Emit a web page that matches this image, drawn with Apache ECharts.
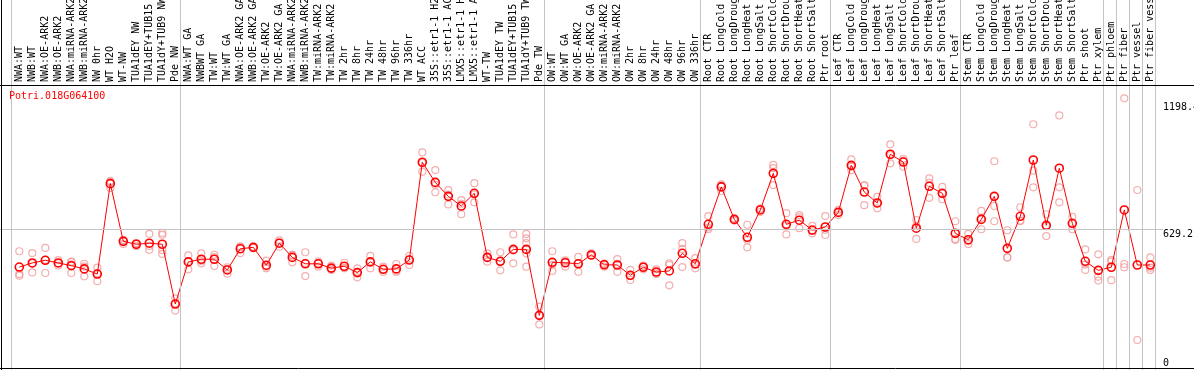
<!DOCTYPE html>
<html><head><meta charset="utf-8">
<script src="https://cdn.jsdelivr.net/npm/echarts@6/dist/echarts.min.js"></script>
<style>html,body{margin:0;padding:0;background:#fff}#c{width:1194px;height:370px}</style>
</head><body><div id="c"></div>
<script>
const geneName = 'Potri.018G064100';
const categories = [
 'NWA:WT','NWB:WT','NWA:OE-ARK2','NWB:OE-ARK2','NWA:miRNA-ARK2','NWB:miRNA-ARK2','NW 0hr','WT H2O','WT-NW','TUA1dEY NW','TUA1dEY+TUB15 NW','TUA1dY+TUB9 NW','Pde NW',
 'NWA:WT GA','NWBWT GA','TW:WT','TW:WT GA','NWA:OE-ARK2 GA','NWB:OE-ARK2 GA','TW:OE-ARK2','TW:OE-ARK2 GA','NWA:miRNA-ARK2 GA','NWB:miRNA-ARK2 GA','TW:miRNA-ARK2','TW:miRNA-ARK2 GA','TW 2hr','TW 8hr','TW 24hr','TW 48hr','TW 96hr','TW 336hr','WT ACC','35S::etr1-1 H2O','35S::etr1-1 ACC','LMX5::etr1-1 H2O','LMX5::etr1-1 ACC','WT-TW','TUA1dEY TW','TUA1dEY+TUB15 TW','TUA1dY+TUB9 TW','Pde TW',
 'OW:WT','OW:WT GA','OW:OE-ARK2','OW:OE-ARK2 GA','OW:miRNA-ARK2','OW:miRNA-ARK2 GA','OW 2hr','OW 8hr','OW 24hr','OW 48hr','OW 96hr','OW 336hr',
 'Root CTR','Root LongCold','Root LongDrought','Root LongHeat','Root LongSalt','Root ShortCold','Root ShortDrought','Root ShortHeat','Root ShortSalt','Ptr root',
 'Leaf CTR','Leaf LongCold','Leaf LongDrought','Leaf LongHeat','Leaf LongSalt','Leaf ShortCold','Leaf ShortDrought','Leaf ShortHeat','Leaf ShortSalt','Ptr leaf',
 'Stem CTR','Stem LongCold','Stem LongDrought','Stem LongHeat','Stem LongSalt','Stem ShortCold','Stem ShortDrought','Stem ShortHeat','Stem ShortSalt','Ptr shoot','Ptr xylem',
 'Ptr phloem','Ptr fiber','Ptr vessel','Ptr fiber vessel'
];
const meanValues = [
 444,464,477,464,451,435,410,850,569,555,560,555,264,
 469,482,482,430,533,540,453,560,491,460,460,439,448,417,469,433,435,478,954,856,788,741,803,491,472,530,530,209,
 467,465,460,503,455,454,404,443,420,425,511,460,
 652,834,676,589,722,900,652,672,624,639,
 710,939,809,756,993,955,633,837,803,608,
 577,676,788,535,691,965,647,925,657,472,428,
 443,722,454,454
];
const replicates = [
 [521,410,402],[512,418,462],[537,415,479],[478,451,463],[470,415,468],[460,399,446],[441,375,414],[858,829,863],[556,576,575],[546,561,558],[605,528,547],[610,601,508,527],[292,232,268],
 [501,433,473],[511,462,473],[504,449,493],[443,412,435],[543,512,544],[543,540,537],[475,438,446],[574,543,563],[503,467,503],[516,400,464],[472,446,462],[451,430,436],[465,438,441],[438,394,419],[498,438,471],[446,420,433],[459,420,426],[499,454,481],[1002,908,952],[916,808,844],[818,749,797],[770,701,752],[852,759,798],[511,470,492],[516,428,472],[603,462,525],[605,584,560,530,511,446],[251,165,211],
 [521,425,455],[477,446,472],[494,421,465],[511,500,498],[462,446,457],[483,421,458],[430,381,401],[451,433,445],[433,410,417],[462,355,454],[560,532,444],[487,438,455],
 [692,628,636],[842,814,846],[681,670,677],[650,540,577],[730,712,724],[941,843,925],[706,603,647],[697,633,686],[644,608,620],[692,600,625],
 [722,697,711],[968,916,933],[840,745,842],[786,730,752],[1041,949,989],[971,932,962],[673,581,645],[876,781,854],[834,774,801],[667,581,576],
 [605,556,570],[717,628,683],[959,741,667],[623,491,491],[735,668,670],[1139,913,832],[701,595,645],[1182,832,759],[688,628,655],[530,430,456],[506,378,397],
 [470,380,479],[1265,459,443],[819,89],[491,430,441]
];
const groupStarts = [0,13,41,53,63,73,84,85,86,87,88];
const yTickValues = [0, 629.2];
const yTopTickValues = [1198.4];
const midLineValue = 629.2;

// layout calibration (pixels)
const W = 1194, H = 370;
const X0 = 19.3, DX = 13;      // first category centre, spacing
const Y0 = 358.3, KY = 0.2055; // pixel of value 0, px per unit
const xMin = -X0 / DX, xMax = (W - X0) / DX;
const yMax = Y0 / KY, yMin = (Y0 - H) / KY;
const toXv = px => (px - X0) / DX;
const toYv = py => (Y0 - py) / KY;

const FONT = 'DejaVu Sans Mono';
const gray = '#c4c4c4';

const repData = [];
replicates.forEach((arr, i) => arr.forEach(v => repData.push([i, v])));

const lineData = [];
groupStarts.forEach(g => lineData.push({xAxis: g - 0.63, lineStyle: {color: gray, width: 1, type: 'solid'}}));
lineData.push([{coord: [xMin, midLineValue]}, {coord: [toXv(1163), midLineValue], lineStyle: {color: gray, width: 1, type: 'solid'}}]);
lineData.push({yAxis: toYv(85.5), lineStyle: {color: '#000', width: 1, type: 'solid'}});
lineData.push({yAxis: toYv(368.5), lineStyle: {color: '#000', width: 1, type: 'solid'}});
lineData.push({xAxis: toXv(1.5), lineStyle: {color: '#000', width: 1, type: 'solid'}});

const chart = echarts.init(document.getElementById('c'), null, {renderer: 'canvas'});
chart.setOption({
  animation: false,
  backgroundColor: '#fff',
  textStyle: {fontFamily: FONT},
  title: {text: geneName, left: 9, top: 91, padding: 0,
    textStyle: {color: '#ff0000', fontFamily: FONT, fontSize: 10, fontWeight: 'normal'}},
  grid: {left: 0, right: 0, top: 0, bottom: 0, containLabel: false, outerBoundsMode: 'none'},
  xAxis: [
    {type: 'value', position: 'bottom', min: xMin, max: xMax, show: false},
    {type: 'value', position: 'top', offset: -85, min: xMin, max: xMax,
      axisLine: {show: false}, axisTick: {show: false}, splitLine: {show: false},
      axisLabel: {customValues: categories.map((_, i) => i), formatter: v => categories[Math.round(v)] || '',
        rotate: 90, margin: 3, fontFamily: FONT, fontSize: 10, color: '#000'}}
  ],
  yAxis: [
    {type: 'value', position: 'right', min: yMin, max: yMax,
      axisLine: {show: false}, axisTick: {show: false}, splitLine: {show: false},
      axisLabel: {inside: true, customValues: yTickValues, align: 'left', verticalAlign: 'top', margin: 31,
        fontFamily: FONT, fontSize: 10, color: '#000', formatter: v => String(v)}},
    {type: 'value', position: 'right', min: yMin, max: yMax,
      axisLine: {show: false}, axisTick: {show: false}, splitLine: {show: false},
      axisLabel: {inside: true, customValues: yTopTickValues, align: 'left', verticalAlign: 'bottom', margin: 31,
        fontFamily: FONT, fontSize: 10, color: '#000', formatter: v => String(v)}}
  ],
  series: [
    {type: 'line', data: [], xAxisIndex: 0, yAxisIndex: 0, silent: true,
      markLine: {silent: true, symbol: 'none', label: {show: false}, animation: false, data: lineData}},
    {type: 'scatter', data: repData, xAxisIndex: 0, yAxisIndex: 0, symbol: 'circle', symbolSize: 7,
      itemStyle: {color: 'rgba(0,0,0,0)', borderColor: '#f09a9a', borderWidth: 1.2}, z: 3},
    {type: 'line', data: meanValues.map((v, i) => [i, v]), xAxisIndex: 0, yAxisIndex: 0,
      symbol: 'circle', symbolSize: 8, showAllSymbol: true,
      lineStyle: {color: '#ff0000', width: 1},
      itemStyle: {color: 'rgba(0,0,0,0)', borderColor: '#ff0000', borderWidth: 1.6}, z: 4}
  ]
});
</script></body></html>
